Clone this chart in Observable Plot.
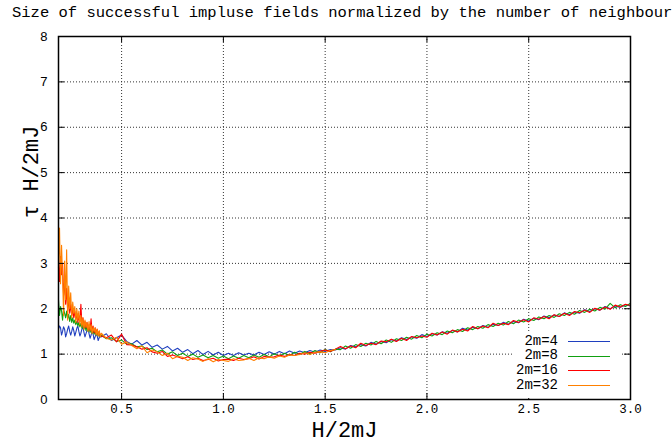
<!DOCTYPE html>
<html><head><meta charset="utf-8">
<script src="https://cdn.jsdelivr.net/npm/d3@7"></script>
<script src="https://cdn.jsdelivr.net/npm/@observablehq/plot@0.6"></script>
<style>
body{margin:0;background:#fff;}
#wrap{position:relative;width:672px;height:447px;overflow:hidden;background:#fff;}
#wrap svg{position:absolute;left:0;top:0;}
#title{position:absolute;left:12px;top:5px;font:15.5px "Liberation Mono",monospace;white-space:nowrap;line-height:16px;color:#000;}
#legend{position:absolute;left:513px;top:332px;width:109px;height:66px;background:#fff;}
.lab{position:absolute;left:0;width:45px;text-align:right;font:14px "Liberation Mono",monospace;line-height:13px;height:13px;color:#000;}
.sw{position:absolute;left:55px;width:42px;height:0;border-top:1px solid;}
</style>
</head><body>
<div id="wrap"><div id="title"></div><div id="legend"></div></div>
<script>
const titleText = "Size of successful impluse fields normalized by the number of neighbours";
const xLabel = "H/2mJ";
const yLabel = "τ H/2mJ";
const seriesNames = ["2m=4", "2m=8", "2m=16", "2m=32"];
const seriesColors = ["#1f3fbf", "#11a011", "#ff0000", "#ff8000"];
const xTicks = [0.5, 1, 1.5, 2, 2.5, 3];
const yTicks = [0, 1, 2, 3, 4, 5, 6, 7, 8];
const xGrid = [0.5, 1, 1.5, 2, 2.5];
const yGrid = [1, 2, 3, 4, 5, 6, 7];

const hValues = [
0.190,0.195,0.200,0.205,0.210,0.215,0.220,0.225,0.230,0.235,
0.240,0.245,0.250,0.255,0.260,0.265,0.270,0.275,0.280,0.285,
0.290,0.295,0.300,0.305,0.310,0.315,0.320,0.325,0.330,0.335,
0.340,0.345,0.350,0.355,0.360,0.365,0.370,0.375,0.380,0.385,
0.390,0.395,
0.400,0.425,0.450,0.475,0.500,0.525,0.550,0.575,0.600,0.625,
0.650,0.675,0.700,0.725,0.750,0.775,0.800,0.825,0.850,0.875,
0.900,0.925,0.950,0.975,1.000,1.025,1.050,1.075,1.100,1.125,
1.150,1.175,1.200,1.225,1.250,1.275,1.300,1.325,1.350,1.375,
1.400,1.425,1.450,1.475,1.500,1.525,1.550,
1.575,1.600,1.625,1.650,1.675,1.700,1.725,1.750,1.775,1.800,
1.825,1.850,1.875,1.900,1.925,1.950,1.975,2.000,2.025,2.050,
2.075,2.100,2.125,2.150,2.175,2.200,2.225,2.250,2.275,2.300,
2.325,2.350,2.375,2.400,2.425,2.450,2.475,2.500,2.525,2.550,
2.575,2.600,2.625,2.650,2.675,2.700,2.725,2.750,2.775,2.800,
2.825,2.850,2.875,2.900,2.925,2.950,2.975,3.000];

const tau_m4 = [
1.55,1.62,1.58,1.42,1.50,1.60,1.55,1.38,1.45,1.55,
1.62,1.50,1.42,1.50,1.60,1.52,1.40,1.48,1.57,1.62,
1.50,1.40,1.46,1.55,1.60,1.48,1.38,1.45,1.52,1.56,
1.45,1.35,1.42,1.50,1.44,1.32,1.38,1.46,1.40,1.30,
1.36,1.42,
1.38,1.45,1.30,1.36,1.42,1.28,1.22,1.30,1.20,1.26,
1.15,1.20,1.11,1.17,1.07,1.13,1.04,1.10,1.01,1.08,
0.99,1.06,0.98,1.04,0.97,1.02,0.97,1.03,0.98,1.02,
0.98,1.04,0.99,1.05,1.00,1.06,1.01,1.07,1.02,1.07,
1.03,1.08,1.04,1.09,1.06,1.10,1.09,
1.14,1.11,1.19,1.16,1.21,1.18,1.26,1.22,1.28,1.25,
1.32,1.29,1.36,1.32,1.38,1.35,1.43,1.39,1.45,1.42,
1.49,1.46,1.52,1.49,1.57,1.53,1.59,1.56,1.63,1.59,
1.66,1.63,1.70,1.66,1.72,1.69,1.77,1.73,1.79,1.76,
1.84,1.80,1.86,1.83,1.91,1.87,1.93,1.90,1.98,1.94,
2.00,1.97,2.05,2.00,2.06,2.03,2.09,2.06];

const tau_m8 = [
2.20,1.85,2.05,1.95,1.75,2.00,1.90,1.80,1.95,1.78,
1.88,1.72,1.85,1.70,1.80,1.68,1.75,1.65,1.72,1.62,
1.70,1.60,1.68,1.57,1.65,1.55,1.62,1.52,1.60,1.50,
1.58,1.48,1.55,1.46,1.52,1.44,1.50,1.42,1.48,1.40,
1.46,1.38,
1.42,1.34,1.36,1.28,1.31,1.22,1.23,1.16,1.18,1.10,
1.13,1.05,1.09,1.00,1.05,0.97,1.02,0.95,1.00,0.93,
0.98,0.92,0.97,0.91,0.96,0.90,0.96,0.91,0.97,0.92,
0.98,0.93,0.99,0.94,1.01,0.96,1.02,0.97,1.04,0.99,
1.06,1.01,1.08,1.03,1.10,1.05,1.11,
1.10,1.18,1.13,1.21,1.17,1.24,1.20,1.28,1.23,1.31,
1.26,1.34,1.30,1.37,1.33,1.41,1.36,1.44,1.40,1.47,
1.43,1.51,1.47,1.54,1.50,1.58,1.54,1.61,1.57,1.65,
1.61,1.68,1.64,1.72,1.67,1.75,1.71,1.78,1.74,1.82,
1.78,1.85,1.81,1.89,1.85,1.92,1.88,1.96,1.92,1.99,
1.95,2.03,1.99,2.12,2.02,2.09,2.05,2.12];

const tau_m16 = [
3.10,2.60,3.15,2.75,3.00,2.30,2.60,2.10,2.45,1.95,
2.25,1.90,2.10,1.85,2.00,1.80,1.95,1.75,1.90,1.70,
1.85,1.72,2.10,1.65,1.80,1.60,1.72,1.58,1.70,1.55,
1.65,1.52,1.78,1.50,1.62,1.47,1.58,1.45,1.55,1.42,
1.50,1.40,
1.40,1.36,1.42,1.27,1.44,1.21,1.20,1.16,1.11,1.14,
1.05,1.02,1.06,0.95,0.98,0.94,0.90,0.94,0.88,0.91,
0.86,0.88,0.91,0.85,0.88,0.89,0.86,0.91,0.88,0.90,
0.94,0.89,0.95,0.93,0.94,0.98,0.95,0.99,0.97,1.02,
1.00,1.04,1.02,1.06,1.09,1.06,1.11,
1.17,1.12,1.18,1.14,1.24,1.19,1.24,1.21,1.29,1.27,
1.33,1.28,1.35,1.30,1.39,1.36,1.40,1.37,1.46,1.42,
1.49,1.44,1.53,1.49,1.55,1.51,1.61,1.56,1.62,1.58,
1.68,1.63,1.68,1.65,1.74,1.70,1.76,1.71,1.80,1.77,
1.83,1.78,1.87,1.83,1.90,1.85,1.94,1.91,1.97,1.92,
2.01,1.97,2.04,1.99,2.08,2.04,2.10,2.07];

const tau_m32 = [
2.90,3.78,2.55,3.40,2.70,1.85,3.05,2.20,3.30,1.75,
2.50,2.00,2.35,1.80,2.15,1.90,2.05,1.70,2.00,1.75,
1.95,1.65,1.85,1.60,1.80,1.55,1.75,1.60,1.70,1.50,
1.72,1.52,1.65,1.45,1.60,1.50,1.58,1.42,1.55,1.40,
1.52,1.38,
1.46,1.35,1.31,1.37,1.22,1.27,1.19,1.12,1.18,1.03,
1.09,1.05,0.97,1.02,0.90,0.95,0.93,0.86,0.92,0.89,
0.84,0.90,0.83,0.88,0.86,0.84,0.90,0.86,0.87,0.91,
0.86,0.92,0.90,0.94,0.91,0.96,0.93,0.98,0.97,0.99,
1.03,0.99,1.04,1.05,1.03,1.08,1.10];

const seriesValues = [tau_m4, tau_m8, tau_m16, tau_m32];
const rows = [];
seriesNames.forEach((name, k) => {
  seriesValues[k].forEach((v, i) => rows.push({h: hValues[i], tau: v, s: name}));
});

const W = 672, H = 447, mL = 58, mR = 42, mT = 36, mB = 48;
const fw = W - mL - mR, fh = H - mT - mB;
const tick = 6;

const chart = Plot.plot({
  width: W, height: H,
  marginLeft: mL, marginRight: mR, marginTop: mT, marginBottom: mB,
  x: {domain: [0.19, 3]},
  y: {domain: [0, 8]},
  color: {domain: seriesNames, range: seriesColors},
  style: {background: "white", color: "black", overflow: "visible"},
  marks: [
    Plot.gridX(xGrid, {stroke: "#333", strokeOpacity: 1, strokeDasharray: "1,2"}),
    Plot.gridY(yGrid, {stroke: "#333", strokeOpacity: 1, strokeDasharray: "1,2"}),
    Plot.line(rows, {x: "h", y: "tau", z: "s", stroke: "s", strokeWidth: 1.1}),
    Plot.ruleX(xTicks, {x: d => d, insetTop: fh - tick, stroke: "#000"}),
    Plot.ruleX(xTicks, {x: d => d, insetBottom: fh - tick, stroke: "#000"}),
    Plot.ruleY(yTicks, {y: d => d, insetRight: fw - tick, stroke: "#000"}),
    Plot.ruleY(yTicks, {y: d => d, insetLeft: fw - tick, stroke: "#000"}),
    Plot.axisX(xTicks, {tickSize: 0, tickPadding: 5, label: null, fontSize: 12.5, fontFamily: "Liberation Mono"}),
    Plot.axisY(yTicks, {tickSize: 0, tickPadding: 11, label: null, fontSize: 13, fontFamily: "Liberation Sans"}),
    Plot.frame({stroke: "#000", strokeWidth: 1.5}),
    Plot.text([xLabel], {frameAnchor: "bottom", dy: 37, fontSize: 22, fontFamily: "Liberation Mono"}),
    Plot.text([yLabel], {frameAnchor: "left", dx: -28, rotate: -90, fontSize: 22, fontFamily: "Liberation Mono"})
  ]
});
const wrap = document.getElementById("wrap");
wrap.insertBefore(chart, wrap.firstChild);
document.getElementById("title").textContent = titleText;

const legend = document.getElementById("legend");
const rowTop = [9, 23.5, 38, 53];
seriesNames.forEach((name, k) => {
  const lab = document.createElement("div");
  lab.className = "lab";
  lab.style.top = (rowTop[k] - 6.5) + "px";
  lab.textContent = name;
  legend.appendChild(lab);
  const sw = document.createElement("div");
  sw.className = "sw";
  sw.style.top = rowTop[k] + "px";
  sw.style.borderTopColor = seriesColors[k];
  legend.appendChild(sw);
});
</script>
</body></html>
